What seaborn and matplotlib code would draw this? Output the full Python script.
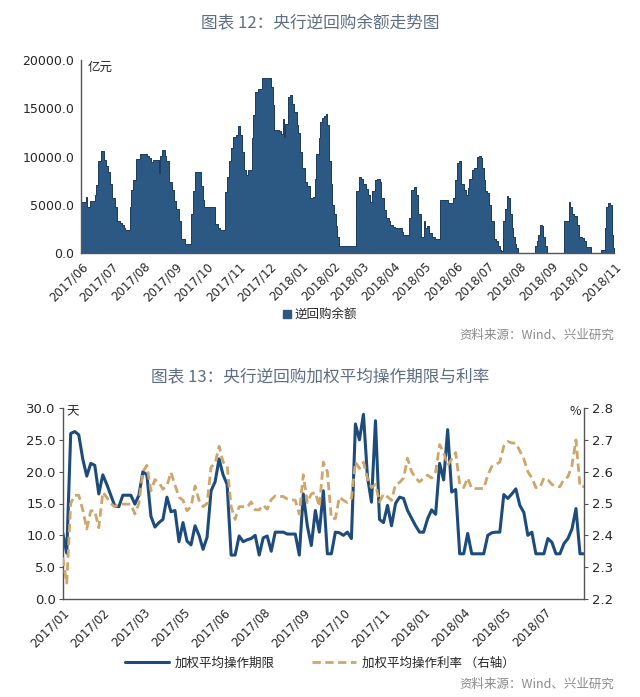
import numpy as np
import pandas as pd
import matplotlib
matplotlib.use("Agg")
import matplotlib.pyplot as plt
import seaborn as sns
from matplotlib.lines import Line2D
from matplotlib.patches import Patch

# ---------------- Chart 12 data: reverse repo outstanding (100m yuan) ----------------
start_date = "2017-06-01"
end_date = "2018-11-01"
balance_day = [0, 5, 6, 9, 14, 15, 17, 19, 22, 24, 26, 28, 30, 33, 35, 38, 40, 42, 43,
               48, 49, 51, 53, 57, 64, 66, 68, 70, 76, 77, 79, 82, 83, 86, 88, 90, 92,
               95, 97, 101, 107, 109, 111, 117, 119, 120, 130, 133, 135, 140, 142, 144,
               146, 148, 151, 153, 155, 156, 158, 160, 162, 166, 167, 169, 172, 176,
               185, 187, 188, 192, 194, 196, 197, 198, 201, 203, 205, 207, 210, 211,
               213, 215, 218, 220, 223, 225, 227, 228, 231, 232, 234, 236, 238, 239,
               241, 243, 244, 246, 248, 249, 251, 267, 270, 272, 274, 277, 279, 281,
               283, 286, 288, 291, 292, 294, 296, 299, 300, 303, 305, 312, 313, 319,
               321, 324, 326, 328, 330, 333, 334, 336, 338, 341, 344, 349, 357, 362,
               363, 365, 367, 369, 372, 374, 376, 377, 380, 382, 385, 387, 389, 390,
               392, 393, 395, 397, 398, 401, 403, 405, 407, 408, 410, 412, 414, 415,
               417, 419, 420, 422, 423, 425, 441, 443, 444, 446, 448, 449, 451, 453,
               469, 474, 475, 477, 479, 482, 484, 487, 489, 491, 496, 505, 509, 510,
               512, 514, 516, 517]
balance_val = [5300, 5800, 4800, 5400, 6000, 7000, 9500, 10600, 9600, 9000, 8400, 7200,
               5700, 4800, 3300, 3100, 2900, 2600, 2400, 4800, 6500, 7600, 9700, 10300,
               10100, 9800, 9400, 9600, 8300, 10100, 10700, 10100, 9500, 7400, 6500, 5400,
               4600, 3300, 1400, 900, 4000, 6400, 8400, 6900, 5500, 4800, 3000, 2600, 2400,
               6300, 7900, 9500, 10900, 12000, 12200, 13200, 12200, 10500, 8600, 8100,
               8600, 11900, 14300, 16700, 17000, 18100, 17200, 15300, 12700, 12600, 12300,
               13900, 12000, 13400, 16200, 16400, 15400, 14600, 13300, 12400, 10500, 8800,
               7400, 6900, 5700, 5800, 7700, 10300, 11900, 13600, 14000, 14200, 14400,
               13300, 9500, 7100, 5000, 4000, 2800, 1700, 700, 6400, 7900, 7700, 7200,
               6600, 6000, 5300, 6400, 7600, 7700, 7400, 5700, 4500, 3600, 3300, 2900,
               2700, 2600, 2200, 1900, 3600, 6500, 6800, 6000, 4000, 1700, 3300, 2600,
               2800, 2100, 1700, 1400, 5500, 5200, 5700, 7600, 9300, 9500, 7200, 6500,
               6000, 6700, 7700, 8600, 8800, 10000, 10100, 9800, 8800, 7600, 6400, 6200,
               5000, 3300, 1400, 1200, 700, 300, 200, 3300, 4600, 5900, 5700, 4000, 2600,
               1700, 900, 500, 0, 700, 1200, 1900, 2900, 2800, 1700, 700, 0, 3300, 5300,
               4800, 4000, 3800, 2900, 1700, 1600, 1200, 600, 0, 300, 2600, 4800, 5200,
               5000, 1900, 500]

# ---------------- Chart 13 data: weighted average term (days) and rate (%) ----------------
term_days = [10.4, 7.2, 26.0, 26.3, 25.8, 22.0, 19.3, 21.3, 21.0, 16.5,
             19.5, 18.0, 16.3, 14.6, 14.5, 16.3, 16.3, 16.3, 14.9, 16.3,
             20.0, 19.5, 13.0, 11.3, 12.0, 12.5, 16.0, 13.7, 13.9, 9.0,
             12.0, 9.1, 8.5, 11.5, 10.0, 7.8, 9.7, 17.0, 18.4, 22.0,
             19.5, 18.0, 6.9, 6.9, 9.9, 9.0, 9.3, 9.5, 10.0, 6.9,
             9.6, 9.9, 7.5, 10.5, 10.5, 10.5, 10.2, 10.2, 10.2, 6.9,
             16.5, 11.5, 8.4, 13.9, 10.5, 17.0, 7.1, 7.1, 10.5, 10.4,
             10.0, 10.5, 9.5, 27.5, 25.0, 29.0, 19.2, 15.2, 28.0, 12.5,
             12.0, 14.7, 11.5, 15.0, 16.0, 15.8, 13.9, 12.7, 11.5, 10.5,
             10.5, 12.6, 14.0, 13.3, 21.3, 18.7, 26.6, 16.8, 17.2, 7.1,
             7.1, 10.3, 7.1, 7.1, 7.1, 7.1, 10.0, 10.4, 10.5, 10.5,
             16.4, 15.8, 16.5, 17.3, 14.7, 13.6, 10.0, 10.5, 7.1, 7.1,
             7.1, 9.5, 8.9, 7.1, 7.1, 8.7, 9.5, 11.0, 14.2, 7.1, 7.1]
rate_pct = [2.33, 2.25, 2.50, 2.526, 2.526, 2.48, 2.42, 2.477, 2.477, 2.424,
            2.535, 2.519, 2.50, 2.49, 2.498, 2.498, 2.498, 2.498, 2.467, 2.50,
            2.60, 2.62, 2.54, 2.575, 2.566, 2.545, 2.556, 2.598, 2.558, 2.52,
            2.51, 2.477, 2.49, 2.555, 2.51, 2.49, 2.50, 2.615, 2.625, 2.68,
            2.63, 2.62, 2.49, 2.45, 2.49, 2.49, 2.488, 2.505, 2.48, 2.48,
            2.495, 2.482, 2.512, 2.524, 2.522, 2.522, 2.514, 2.512, 2.51, 2.467,
            2.59, 2.503, 2.53, 2.535, 2.49, 2.63, 2.60, 2.453, 2.453, 2.52,
            2.51, 2.503, 2.516, 2.63, 2.61, 2.63, 2.579, 2.55, 2.56, 2.505,
            2.53, 2.521, 2.51, 2.56, 2.566, 2.58, 2.642, 2.60, 2.58, 2.568,
            2.58, 2.589, 2.58, 2.60, 2.685, 2.66, 2.62, 2.64, 2.66, 2.56,
            2.55, 2.58, 2.547, 2.547, 2.547, 2.547, 2.589, 2.616, 2.623, 2.63,
            2.68, 2.695, 2.69, 2.69, 2.665, 2.64, 2.60, 2.58, 2.55, 2.55,
            2.58, 2.574, 2.56, 2.553, 2.553, 2.576, 2.584, 2.62, 2.70, 2.553, 2.553]
bottom_labels = ["2017/01", "2017/02", "2017/03", "2017/05", "2017/06", "2017/08",
                 "2017/09", "2017/10", "2017/11", "2018/01", "2018/04", "2018/05",
                 "2018/07"]
label_every = 10

# ---------------- styling ----------------
sns.set_style("white")
plt.rcParams["font.family"] = ["Noto Sans CJK SC", "DejaVu Sans"]
plt.rcParams["axes.unicode_minus"] = False

W, H = 640, 697
bar_fill = "#2c5884"
bar_edge = "#1c3a5a"
blue = "#1d4c7c"
gold = "#cfa56a"
spine_c = "#555555"
title_c = "#5e6e82"
src_c = "#8a8a8a"

fig = plt.figure(figsize=(W / 100, H / 100), dpi=100)


def px_axes(left, top, right, bottom):
    return fig.add_axes([left / W, 1 - bottom / H, (right - left) / W, (bottom - top) / H])


# ---------------- Chart 12 ----------------
ax1 = px_axes(81, 60, 614, 253)
end_day = (pd.Timestamp(end_date) - pd.Timestamp(start_date)).days
edges = np.array(balance_day + [end_day], dtype=float)
heights = np.array(balance_val + [balance_val[-1]], dtype=float)
ax1.fill_between(edges, heights, step="post", facecolor=bar_fill,
                 edgecolor=bar_edge, linewidth=0.7)
months = pd.date_range(start_date, end_date, freq="MS")
month_pos = [(m - pd.Timestamp(start_date)).days for m in months]
ax1.set_xlim(0, end_day)
ax1.set_ylim(0, 20000)
ax1.set_yticks(np.arange(0, 20001, 5000))
ax1.set_yticklabels([f"{v:.1f}" for v in np.arange(0, 20001, 5000)], fontsize=9,
                    family="DejaVu Sans")
ax1.set_xticks(month_pos)
ax1.set_xticklabels(months.strftime("%Y/%m"), rotation=45, ha="right",
                    rotation_mode="anchor", fontsize=8.5, family="DejaVu Sans")
ax1.set_xlabel("")
ax1.set_ylabel("")
for s in ["top", "right"]:
    ax1.spines[s].set_visible(False)
for s in ["left", "bottom"]:
    ax1.spines[s].set_color(spine_c)
    ax1.spines[s].set_linewidth(1.0)
ax1.tick_params(axis="both", direction="out", length=3, color=spine_c, pad=2)
fig.text(88 / W, 1 - 67 / H, "亿元", fontsize=9, va="center", ha="left")

fig.text(0.5, 1 - 24 / H, "图表 12：央行逆回购余额走势图", fontsize=12,
         color=title_c, ha="center", va="center")
fig.legend(handles=[Patch(facecolor=bar_fill, edgecolor=bar_fill)],
           labels=["逆回购余额"], loc="center", bbox_to_anchor=(0.5, 1 - 315 / H),
           frameon=False, fontsize=9, handlelength=0.6, handleheight=0.6,
           handletextpad=0.3)
fig.text(614 / W, 1 - 335 / H, "资料来源：Wind、兴业研究", fontsize=9,
         color=src_c, ha="right", va="center")

# ---------------- Chart 13 ----------------
fig.text(0.5, 1 - 377 / H, "图表 13：央行逆回购加权平均操作期限与利率", fontsize=12,
         color=title_c, ha="center", va="center")
ax2 = px_axes(62.7, 408, 584, 599)
idx = np.arange(len(term_days))
sns.lineplot(x=idx, y=term_days, ax=ax2, color=blue, linewidth=2.2)
ax3 = ax2.twinx()
sns.lineplot(x=idx, y=rate_pct, ax=ax3, color=gold, linewidth=2.0,
             linestyle=(0, (3, 1.6)))

ax2.set_xlim(0, len(term_days) - 1)
ax2.set_ylim(0, 30)
ax2.set_yticks(np.arange(0, 30.1, 5))
ax2.set_yticklabels([f"{v:.1f}" for v in np.arange(0, 30.1, 5)], fontsize=9.5,
                    family="DejaVu Sans")
ax3.set_ylim(2.2, 2.8)
rt = np.round(np.arange(2.2, 2.801, 0.1), 1)
ax3.set_yticks(rt)
ax3.set_yticklabels([f"{v:.1f}" for v in rt], fontsize=9.5, family="DejaVu Sans")
ax2.set_xticks(idx, minor=True)
ax2.set_xticks(np.arange(0, len(bottom_labels) * label_every, label_every))
ax2.set_xticklabels(bottom_labels, rotation=45, ha="right", rotation_mode="anchor",
                    fontsize=8.5, family="DejaVu Sans")
for a in (ax2, ax3):
    a.set_xlabel("")
    a.set_ylabel("")
    a.spines["top"].set_visible(False)
    for s in ["left", "right", "bottom"]:
        a.spines[s].set_color(spine_c)
        a.spines[s].set_linewidth(1.0)
ax2.spines["right"].set_visible(False)
ax3.spines["left"].set_visible(False)
ax3.spines["bottom"].set_visible(False)
ax2.tick_params(axis="x", which="both", direction="out", length=3, color=spine_c,
                width=0.6, pad=2)
ax2.tick_params(axis="y", direction="out", length=3, color=spine_c, pad=2)
ax3.tick_params(axis="y", direction="out", length=3, color=spine_c, pad=3)
fig.text(66 / W, 1 - 412 / H, "天", fontsize=9, va="center", ha="left")
fig.text(581 / W, 1 - 411 / H, "%", fontsize=9, va="center", ha="right")

fig.legend(handles=[Line2D([], [], color=blue, lw=2.2),
                    Line2D([], [], color=gold, lw=2.0, linestyle=(0, (3, 1.6)))],
           labels=["加权平均操作期限", "加权平均操作利率 （右轴）"], loc="center",
           bbox_to_anchor=(0.5, 1 - 663 / H), ncol=2, frameon=False, fontsize=9,
           handlelength=3.5, columnspacing=3.0, handletextpad=0.5)
fig.text(614 / W, 1 - 684 / H, "资料来源：Wind、兴业研究", fontsize=9,
         color=src_c, ha="right", va="center")

fig.savefig("out.png", dpi=100)
